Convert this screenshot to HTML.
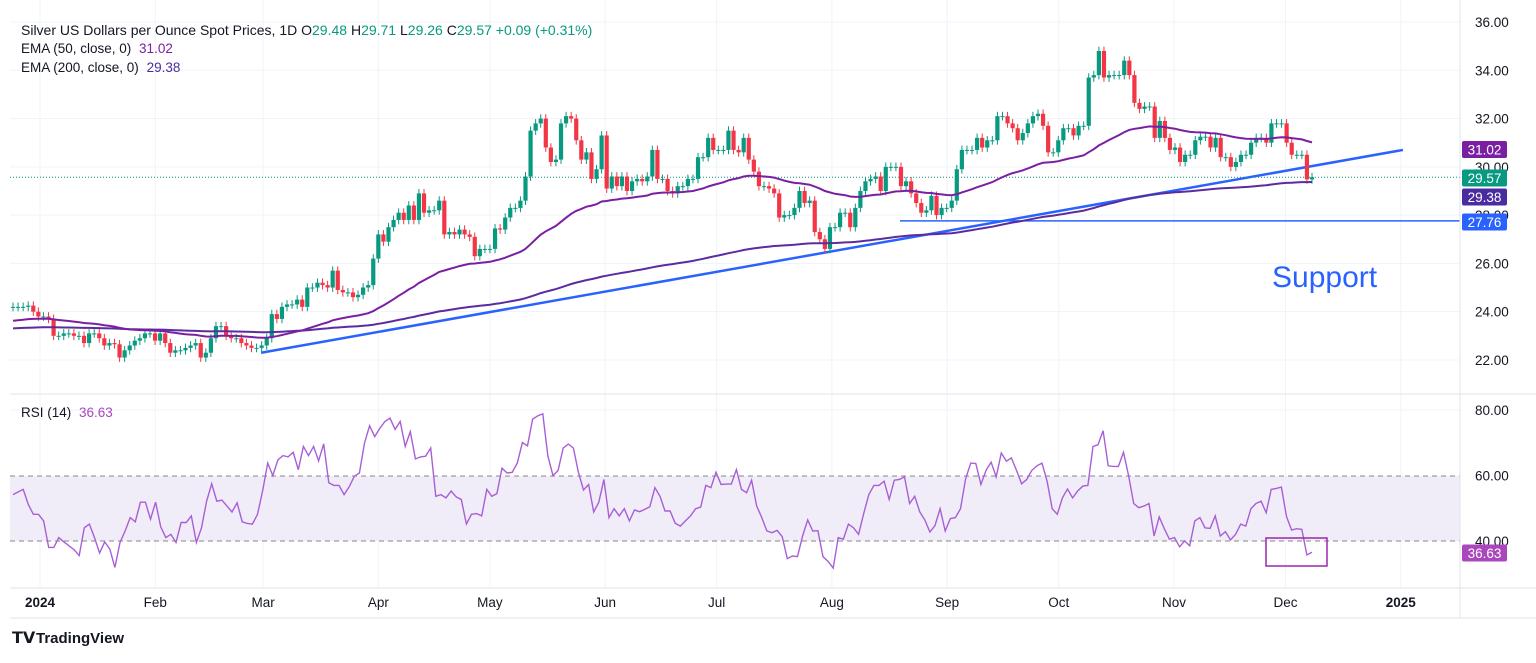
<!DOCTYPE html>
<html><head><meta charset="utf-8"><style>
body{margin:0;background:#fff;font-family:"Liberation Sans",sans-serif}
svg text{font-family:"Liberation Sans",sans-serif}
</style></head><body>
<svg id="c" width="1536" height="658" viewBox="0 0 1536 658" xmlns="http://www.w3.org/2000/svg">
<rect width="1536" height="658" fill="#fff"/>
<g id="grid"></g>
<rect x="10" y="476" width="1450" height="65" fill="#f0ecf8"/>
<line x1="10" y1="476" x2="1460" y2="476" stroke="#888" stroke-dasharray="5,4"/>
<line x1="10" y1="541" x2="1460" y2="541" stroke="#888" stroke-dasharray="5,4"/>
<g id="marks"></g>
<line x1="10" y1="394" x2="1536" y2="394" stroke="#e0e3eb"/>
<line x1="10" y1="588" x2="1536" y2="588" stroke="#e0e3eb"/>
<line x1="1460" y1="0" x2="1460" y2="618" stroke="#e0e3eb"/>
<line x1="10" y1="618" x2="1536" y2="618" stroke="#e0e3eb"/>
<g id="axes"></g>
<text x="21" y="35" font-size="14" fill="#131722">Silver US Dollars per Ounce Spot Prices, 1D <tspan fill="#131722">O</tspan><tspan fill="#089981">29.48</tspan> <tspan fill="#131722">H</tspan><tspan fill="#089981">29.71</tspan> <tspan fill="#131722">L</tspan><tspan fill="#089981">29.26</tspan> <tspan fill="#131722">C</tspan><tspan fill="#089981">29.57 +0.09 (+0.31%)</tspan></text>
<text x="21" y="53" font-size="13.5" fill="#131722">EMA (50, close, 0) <tspan fill="#7b1fa2" dx="4">31.02</tspan></text>
<text x="21" y="72" font-size="13.5" fill="#131722">EMA (200, close, 0) <tspan fill="#4a2ca0" dx="4">29.38</tspan></text>
<text x="21" y="417" font-size="13.5" fill="#131722">RSI (14) <tspan fill="#ab47bc" dx="4">36.63</tspan></text>
<text x="1272" y="287" font-size="30" fill="#2962ff">Support</text>
<rect x="1266" y="538" width="61" height="28" fill="none" stroke="#9c27b0" stroke-width="1.5"/>
<g><text x="12" y="643" font-size="16" font-weight="bold" fill="#131722">𝗧𝗩</text><text x="36" y="643" font-size="15" font-weight="bold" fill="#131722">TradingView</text></g>
</svg>
<script>
const closes=[24.2,24.2,24.2,24.25,24.0,23.8,23.8,23.7,23.0,23.0,23.1,23.1,23.0,23.0,22.7,23.1,23.1,22.9,22.6,22.7,22.65,22.1,22.4,22.6,22.8,22.9,23.1,23.1,22.8,23.1,22.7,22.3,22.4,22.4,22.5,22.6,22.7,22.1,22.3,22.9,23.4,23.4,23.0,22.9,22.9,22.7,22.6,22.5,22.5,22.6,22.9,23.9,23.7,24.2,24.3,24.3,24.5,24.2,25.0,25.0,25.2,25.1,25.0,25.7,24.9,24.8,24.8,24.6,24.7,25.0,25.1,26.2,27.2,26.9,27.5,27.8,28.1,27.8,28.4,27.8,28.9,28.1,28.2,28.2,28.6,27.2,27.3,27.2,27.4,27.2,27.1,26.3,26.6,26.6,26.6,27.45,27.4,27.9,
28.3,28.3,28.6,29.6,31.5,31.8,32.0,30.8,30.2,30.3,31.8,32.1,32.0,31.1,30.3,30.6,29.5,29.9,31.3,29.1,29.6,29.2,29.6,29.0,29.4,29.5,29.4,29.6,30.7,29.5,29.5,29.0,28.9,29.2,29.2,29.5,29.5,30.4,30.4,31.2,30.7,30.7,30.7,31.5,30.7,30.6,31.2,30.3,29.8,29.2,29.2,29.1,28.9,27.9,28.0,28.0,28.3,29.0,28.5,28.6,27.3,27.0,26.6,27.5,27.5,28.1,28.1,27.5,28.3,29.0,29.4,29.5,29.6,29.0,30.0,30.0,30.0,29.2,29.4,28.9,28.5,28.1,28.2,28.8,28.0,28.3,28.3,28.6,29.9,
30.7,30.7,30.7,31.2,30.8,31.1,31.1,32.1,32.1,31.8,31.6,31.1,31.4,31.8,32.1,32.2,31.7,30.6,30.6,31.1,31.6,31.6,31.3,31.7,31.7,33.7,33.8,34.8,33.7,33.8,33.8,33.8,34.4,33.8,32.65,32.4,32.5,32.5,31.2,31.9,31.2,30.7,30.8,30.2,30.5,30.5,31.1,31.25,31.25,30.8,31.2,30.4,30.4,30.0,30.2,30.5,30.5,31.0,31.2,31.2,31.0,31.8,31.8,31.8,31.0,30.5,30.5,30.5,29.48,29.57];
const rsi=[54.2,55,55.8,51.2,48.2,48.2,46.2,38.1,38.1,41.1,39.8,38.6,37.4,35.6,44.1,45.2,41.1,36.4,39.8,37.6,32.0,39.6,43.1,47.2,45.9,51.9,51.9,46.7,51.9,44.4,41.1,42.1,39.6,45.7,45.7,47.7,39.6,44.1,52.2,57.5,52.2,52.5,50.7,48.9,51.7,45.9,45.4,45.2,48.2,55.3,63.8,60,64.8,66.1,65.7,67.1,61.8,68.9,66.1,68.9,64.5,69.7,57.8,57.0,57.0,54.2,56.6,59.8,60.8,69.9,75.2,71.9,74.4,76.5,77.5,74.1,76.5,68.9,73.4,65.1,65.7,65.9,68.4,53.7,54.2,53.2,55.3,53.5,52.7,45.2,48.2,48.4,47.7,55.8,53.7,54.5,62.3,60.8,61,63.8,70.1,69.1,77.2,78.2,78.8,65.9,60,61.6,68.4,69.6,68.4,61.0,55.6,57.3,48.9,51.9,58.8,47.2,49.9,47.7,49.9,46.2,49.5,49.0,49.7,50.5,56.3,
53.7,49.2,49.2,45.5,44.6,46.2,47.7,49.9,50.4,57.0,56.3,61.0,57.3,57.4,57.4,61.8,55.8,54.8,58.6,50.7,47.2,43.1,42.6,43.3,41.4,34.7,35.5,35.3,41.6,46.5,43.1,43.2,35.3,33.8,31.8,41.1,40.6,45.2,44.1,42.1,48.4,54.2,57.0,57.0,58.3,52.7,58.6,58.8,59.6,51.5,53.7,48.9,46.5,42.8,44.8,49.9,43.1,46.9,47.2,49.9,59.0,63.8,63.7,57.3,61.6,64.1,59.6,66.9,64.4,65.4,61.6,57.5,58.8,61.6,63.0,63.8,58.3,49.9,48.2,53.2,55.9,53.2,55.3,56.8,57.0,68.9,69.4,73.7,63.0,62.8,62.8,67.1,60,51.5,50.2,50.7,51.5,41.6,47.4,43.8,40.6,41.1,38.3,40.1,38.6,46.2,47.2,44.1,43.9,47.7,41.6,42.9,40.4,42.1,45.2,44.6,49.9,51.5,52.2,48.7,55.8,56.1,56.5,47.5,43.4,43.8,43.6,35.8,36.63];
const priceTicks=["36.00","34.00","32.00","30.00","28.00","26.00","24.00","22.00"];
const priceTickVals=[36,34,32,30,28,26,24,22];
const rsiTicks=["80.00","60.00","40.00"];
const rsiTickVals=[80,60,40];
const monthLabels=["2024","Feb","Mar","Apr","May","Jun","Jul","Aug","Sep","Oct","Nov","Dec","2025"];
const monthDays=[0,31,60,91,121,152,182,213,244,274,305,335,366];
const trendStart=[22.3,0.191],trendEnd=[30.7,1.07];
const supportLevel=27.76;

const NS="http://www.w3.org/2000/svg";
const py=p=>22+(36-p)*24.14;
const ry=v=>410+(80-v)*3.28;
const X0=13,X1=1312;
const bx=(i,n)=>X0+i*(X1-X0)/(n-1);
const dx=d=>40+d*3.718;
function mk(t,a,parent){const e=document.createElementNS(NS,t);for(const k in a)e.setAttribute(k,a[k]);parent.appendChild(e);return e;}
const grid=document.getElementById('grid'),marks=document.getElementById('marks'),axes=document.getElementById('axes');

monthDays.forEach((d,i)=>{
  const l=mk('line',{x1:dx(d),x2:dx(d),y1:0,y2:588,stroke:'#f0f3fa'},grid);
  
  
  const t=mk('text',{x:dx(d),y:607,'font-size':13.5,'text-anchor':'middle',fill:'#131722','font-weight':(i==0||i==12)?'bold':'normal'},axes);
  t.textContent=monthLabels[i];
  
  
});
priceTickVals.forEach((v,i)=>{
  const l=mk('line',{x1:10,x2:1460,y1:py(v),y2:py(v),stroke:'#f0f3fa'},grid);
  
  
  const t=mk('text',{x:1475,y:py(v)+5,'font-size':13.5,fill:'#131722'},axes);
  t.textContent=priceTicks[i];
  
  
});
rsiTickVals.forEach((v,i)=>{
  if(v==80){const l=mk('line',{x1:10,x2:1460,y1:ry(v),y2:ry(v),stroke:'#f0f3fa'},grid);
  
  }
  const t=mk('text',{x:1475,y:ry(v)+5,'font-size':13.5,fill:'#131722'},axes);
  t.textContent=rsiTicks[i];
  
  
});

const n=closes.length;
function ema(arr,len,seed){const a=2/(len+1);let e=seed;return arr.map(c=>e=e+a*(c-e));}
const e50=ema(closes,50,23.6),e200=ema(closes,200,23.3);

const tl=mk('line',{x1:X0+trendStart[1]*(X1-X0),y1:py(trendStart[0]),x2:X0+trendEnd[1]*(X1-X0),y2:py(trendEnd[0]),stroke:'#2962ff','stroke-width':2.5},marks);


const sl=mk('line',{x1:900,y1:py(supportLevel),x2:1460,y2:py(supportLevel),stroke:'#2962ff','stroke-width':1.5},marks);


const ll=mk('line',{x1:10,y1:py(closes[n-1]),x2:1460,y2:py(closes[n-1]),stroke:'#089981','stroke-dasharray':'1,2'},marks);



for(let i=0;i<n;i++){
  const c=closes[i],o=i?closes[i-1]:c;
  const x=bx(i,n),up=c>=o,col=up?'#089981':'#f23645';
  const hi=Math.max(o,c)+0.18,lo=Math.min(o,c)-0.18;
  const g=mk('g',{},marks);
  
  
  mk('line',{x1:x,x2:x,y1:py(hi),y2:py(lo),stroke:col,'stroke-width':1},g);
  const t=py(Math.max(o,c)),b=py(Math.min(o,c));
  mk('rect',{x:x-2.1,y:t,width:4.2,height:Math.max(1,b-t),fill:col},g);
}
const lp=a=>a.map((v,i)=>`${bx(i,n).toFixed(1)},${py(v).toFixed(1)}`).join(' ');
const p200=mk('polyline',{points:lp(e200),fill:'none',stroke:'#5b2c9f','stroke-width':2},marks);


const p50=mk('polyline',{points:lp(e50),fill:'none',stroke:'#7b1fa2','stroke-width':2},marks);


const m=rsi.length;
const pr=mk('polyline',{points:rsi.map((v,i)=>`${bx(i,m).toFixed(1)},${ry(v).toFixed(1)}`).join(' '),fill:'none',stroke:'#a85fd6','stroke-width':1.4},marks);



function badge(val,y,col,name){
  const g=mk('g',{},axes);
  
  
  mk('rect',{x:1462,y:y-8.5,width:45,height:17,rx:2,fill:col},g);
  const t=mk('text',{x:1484.5,y:y+5,'font-size':13.5,fill:'#fff','text-anchor':'middle'},g);
  t.textContent=val.toFixed(2);
}
badge(31.02,149.5,'#7b1fa2','ema50-badge');
badge(closes[n-1],178,'#089981','price-badge');
badge(29.38,197,'#4a2ca0','ema200-badge');
badge(supportLevel,222,'#2962ff','support-badge');
badge(rsi[m-1],553,'#ab47bc','rsi-badge');
</script>
</body></html>
